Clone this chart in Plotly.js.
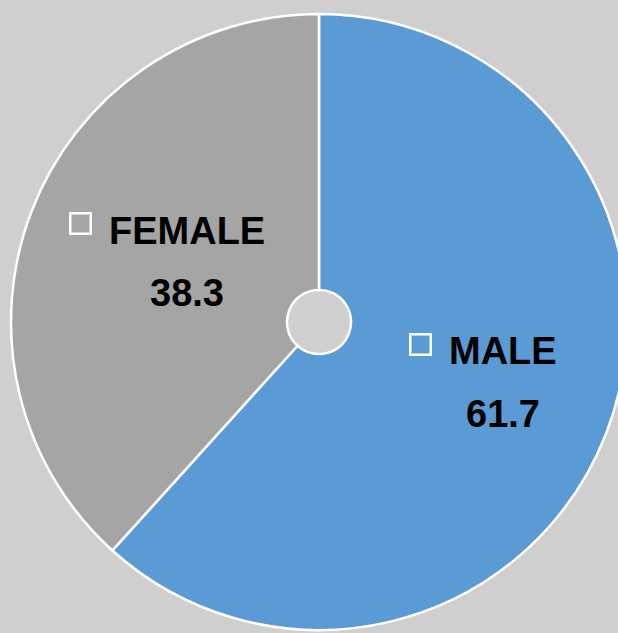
<!DOCTYPE html>
<html>
<head>
<meta charset="utf-8">
<script src="https://cdn.plot.ly/plotly-3.0.1.min.js"></script>
<style>
html,body{margin:0;padding:0;overflow:hidden;background:#D0CECE;width:618px;height:633px;}
#chart{width:638px;height:644px;}
</style>
</head>
<body>
<div id="chart"></div>
<script>
const labels = ["MALE", "FEMALE"];
const values = [61.7, 38.3];
const colors = ["#5B9BD5", "#A5A5A5"];

const W = 638, H = 644, ML = 11, MT = 14, PW = 616, PH = 616;
const px = x => (x - ML) / PW;
const py = y => 1 - (y - MT) / PH;

// label anchor positions (pixel centres) for each slice
const labelPos = [
  {sq: [420.5, 344.5], name: [502.5, 351], val: [502.5, 414]},
  {sq: [80.5, 223], name: [186.5, 231], val: [187, 293]}
];

const font = {family: "Liberation Sans, Arial, sans-serif", size: 38, color: "#000000"};
const annotations = [];
labels.forEach((lab, i) => {
  const p = labelPos[i];
  annotations.push({xref: "paper", yref: "paper", x: px(p.name[0]), y: py(p.name[1]),
    xanchor: "center", yanchor: "middle", showarrow: false, text: "<b>" + lab + "</b>", font: font});
  annotations.push({xref: "paper", yref: "paper", x: px(p.val[0]), y: py(p.val[1]),
    xanchor: "center", yanchor: "middle", showarrow: false, text: "<b>" + values[i].toFixed(1) + "</b>", font: font});
  annotations.push({xref: "paper", yref: "paper", x: px(p.sq[0]), y: py(p.sq[1]),
    xanchor: "center", yanchor: "middle", showarrow: false, text: " ",
    width: 18, height: 18, borderwidth: 2.5, bordercolor: "#FFFFFF", borderpad: 0,
    font: {size: 4}});
});

const data = [{
  type: "pie",
  labels: labels,
  values: values,
  sort: false,
  direction: "clockwise",
  rotation: 0,
  hole: 0.104,
  marker: {colors: colors, line: {color: "#FFFFFF", width: 2.5}},
  textinfo: "none",
  hoverinfo: "label+value",
  showlegend: false
}];

const layout = {
  width: W, height: H,
  margin: {l: ML, r: W - ML - PW, t: MT, b: H - MT - PH, pad: 0},
  paper_bgcolor: "#D0CECE",
  plot_bgcolor: "#D0CECE",
  showlegend: false,
  annotations: annotations
};

Plotly.newPlot("chart", data, layout, {displayModeBar: false, staticPlot: true});
</script>
</body>
</html>
